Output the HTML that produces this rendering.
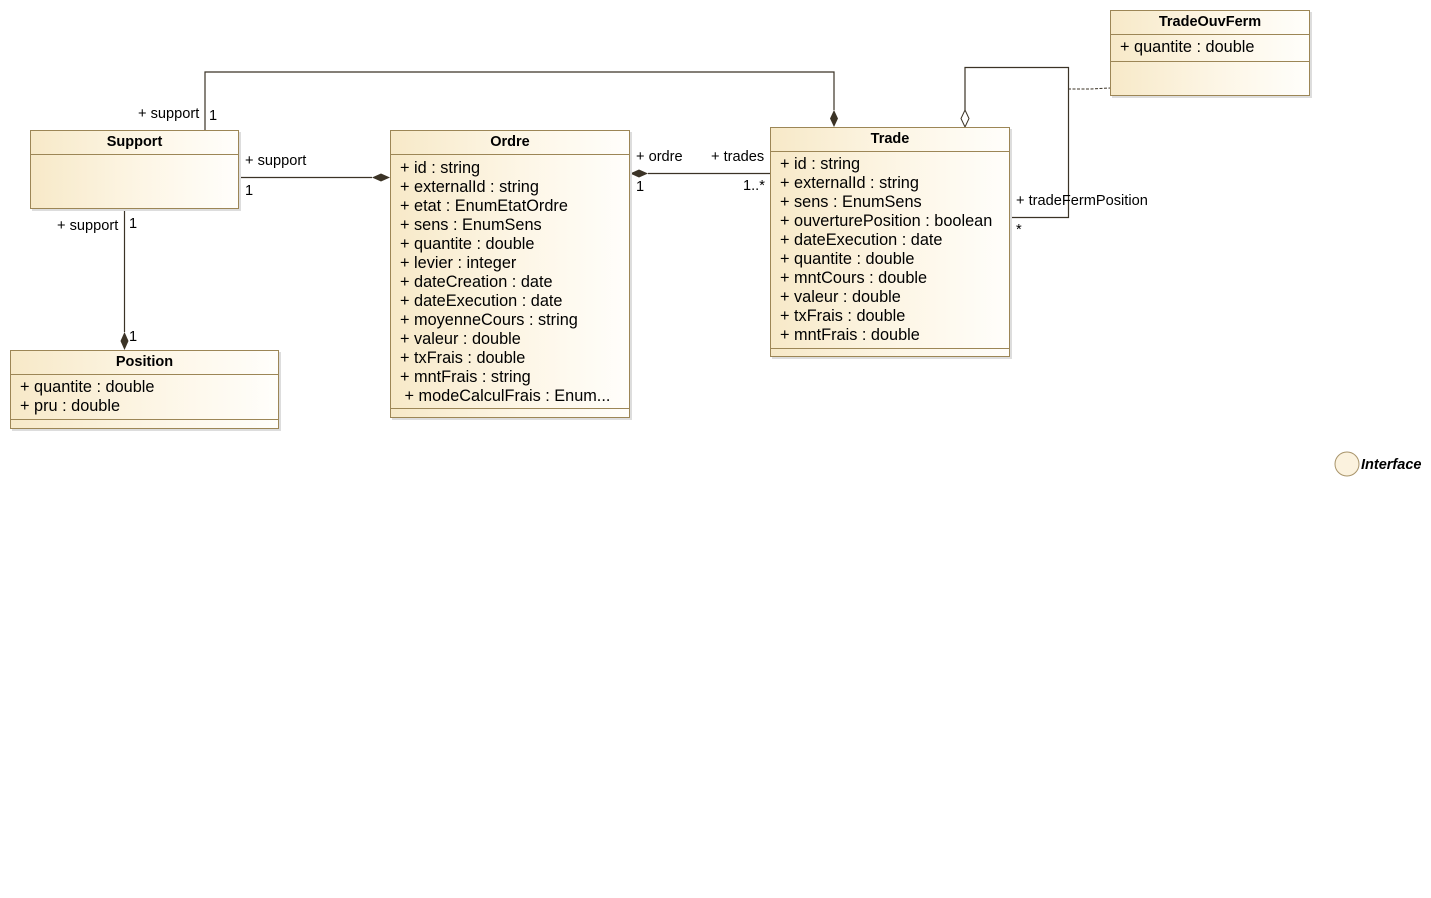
<!DOCTYPE html>
<html><head><meta charset="utf-8"><style>
body{margin:0;width:1431px;height:898px;background:#fff;position:relative;overflow:hidden;font-family:"Liberation Sans",sans-serif;color:#000}
.c{position:absolute;border:1px solid #9c8656;background:linear-gradient(90deg,#f7e9c8 0%,#fdf6e6 55%,#fffefb 100%);box-shadow:2px 2px 0 #ddd;box-sizing:border-box}
.h{position:absolute;left:0;right:0;top:0;border-bottom:1px solid #9c8656;text-align:center;font-weight:bold;font-size:14.5px;line-height:23px}
.sep{position:absolute;left:0;right:0;border-top:1px solid #9c8656}
.a{position:absolute;left:9px;font-size:16.3px;line-height:19px;white-space:nowrap}
.l{position:absolute;font-size:14.6px;white-space:nowrap;line-height:15px}
svg{position:absolute;left:0;top:0}
</style></head><body>
<svg width="1431" height="898">
<g stroke="#3b3326" stroke-width="1.2" fill="none">
<polyline points="205,130 205,72 834,72 834,110"/>
<line x1="240" y1="177.5" x2="372" y2="177.5"/>
<line x1="124.5" y1="208" x2="124.5" y2="332"/>
<line x1="648" y1="173.5" x2="770" y2="173.5"/>
<polyline points="965,110 965,67.5 1068.5,67.5 1068.5,217.5 1010,217.5"/>
<polyline points="1068,89 1090,89 1110,88" stroke-dasharray="3,1.5" stroke-width="1"/>
</g>
<g fill="#3b3326">
<polygon points="834,110 838,118.5 834,127 830,118.5"/>
<polygon points="372,177.5 381,173.5 390,177.5 381,181.5"/>
<polygon points="124.5,332 128.5,341 124.5,350 120.5,341"/>
<polygon points="630,173.5 639,169.5 648,173.5 639,177.5"/>
</g>
<polygon points="965,110 969,118.5 965,127 961,118.5" fill="#fff" stroke="#3b3326" stroke-width="1"/>
<circle cx="1347" cy="464" r="12" fill="#fbf2de" stroke="#a8946a" stroke-width="1"/>
</svg>

<div class="c" style="left:30px;top:130px;width:209px;height:79px"><div class="h">Support</div></div>

<div class="c" style="left:390px;top:130px;width:240px;height:288px"><div class="h">Ordre</div>
<div class="a" style="top:28px">+ id : string<br>+ externalId : string<br>+ etat : EnumEtatOrdre<br>+ sens : EnumSens<br>+ quantite : double<br>+ levier : integer<br>+ dateCreation : date<br>+ dateExecution : date<br>+ moyenneCours : string<br>+ valeur : double<br>+ txFrais : double<br>+ mntFrais : string<br>&nbsp;+ modeCalculFrais : Enum...</div>
<div class="sep" style="top:277px"></div></div>

<div class="c" style="left:770px;top:127px;width:240px;height:230px"><div class="h">Trade</div>
<div class="a" style="top:27px">+ id : string<br>+ externalId : string<br>+ sens : EnumSens<br>+ ouverturePosition : boolean<br>+ dateExecution : date<br>+ quantite : double<br>+ mntCours : double<br>+ valeur : double<br>+ txFrais : double<br>+ mntFrais : double</div>
<div class="sep" style="top:220px"></div></div>

<div class="c" style="left:10px;top:350px;width:269px;height:79px"><div class="h">Position</div>
<div class="a" style="top:27px">+ quantite : double<br>+ pru : double</div>
<div class="sep" style="top:68px"></div></div>

<div class="c" style="left:1110px;top:10px;width:200px;height:86px"><div class="h">TradeOuvFerm</div>
<div class="a" style="top:27px">+ quantite : double</div>
<div class="sep" style="top:50px"></div></div>

<div class="l" style="left:138px;top:107px">+ support</div>
<div class="l" style="left:209px;top:109px">1</div>
<div class="l" style="left:245px;top:154px">+ support</div>
<div class="l" style="left:245px;top:184px">1</div>
<div class="l" style="left:57px;top:219px">+ support</div>
<div class="l" style="left:129px;top:217px">1</div>
<div class="l" style="left:129px;top:330px">1</div>
<div class="l" style="left:636px;top:150px">+ ordre</div>
<div class="l" style="left:636px;top:180px">1</div>
<div class="l" style="left:711px;top:150px">+ trades</div>
<div class="l" style="left:743px;top:179px">1..*</div>
<div class="l" style="left:1016px;top:194px">+ tradeFermPosition</div>
<div class="l" style="left:1016px;top:223px">*</div>
<div class="l" style="left:1361px;top:458px;font-weight:bold;font-style:italic;font-size:14.5px">Interface</div>
</body></html>
